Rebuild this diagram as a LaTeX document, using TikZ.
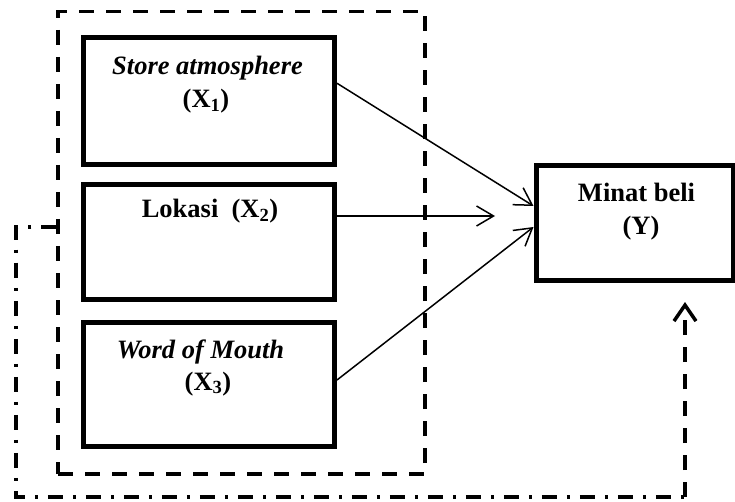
\documentclass[tikz,border=0pt]{standalone}
\usepackage{fontspec}
\setmainfont{Liberation Serif}
\usetikzlibrary{arrows.meta}
\begin{document}
\begin{tikzpicture}[x=1pt,y=-1pt,
  box/.style={draw,line width=5pt,inner sep=0pt},
  grpbox/.style={draw,line width=3.5pt,dash pattern=on 15pt off 12pt,inner sep=0pt},
  lbl/.style={inner sep=0pt,anchor=base,font=\bfseries\fontsize{26.5}{32}\selectfont},
  thinarrow/.style={line width=1.5pt,-{Straight Barb[length=17pt,width=20pt]}},
  dashdotline/.style={line width=3.5pt,dash pattern=on 15pt off 10pt on 3pt off 10pt},
  dashline/.style={line width=3.5pt,dash pattern=on 15pt off 12pt,-{Straight Barb[length=16pt,width=22pt]}}
]
\useasboundingbox (0,0) rectangle (735,502);
% boxes
\node[box,minimum width=251.5pt,minimum height=126.5pt] (b1) at (208.75,101.25) {};
\node[box,minimum width=251.5pt,minimum height=115pt] (b2) at (208.75,242) {};
\node[box,minimum width=251.5pt,minimum height=124pt] (b3) at (208.75,384.5) {};
\node[box,minimum width=197pt,minimum height=115pt] (y) at (634.5,223) {};
% group dashed box
\node[grpbox,minimum width=367pt,minimum height=462.5pt] (grp) at (241.5,242.75) {};
% labels
\node[lbl] (t1a) at (207.5,75) {\textit{Store atmosphere}};
\node[lbl] (t1b) at (206,108) {(X\textsubscript{1})};
\node[lbl] (t2) at (210,218) {Lokasi\ \ (X\textsubscript{2})};
\node[lbl] (t3a) at (200.5,358) {\textit{Word of Mouth}};
\node[lbl] (t3b) at (208,390) {(X\textsubscript{3})};
\node[lbl] (tya) at (636.5,202) {Minat beli};
\node[lbl] (tyb) at (641,235) {(Y)};
% arrows
\coordinate (a2end) at (495,216);
\draw[thinarrow] ([yshift=18pt]b1.east) -- ([yshift=17pt]y.west);
\draw[thinarrow] ([yshift=26pt]b2.east) -- (a2end);
\draw[thinarrow] ([yshift=4.5pt]b3.east) -- ([yshift=-4pt]y.west);
% feedback line
\coordinate (fbl) at (16,497);
\coordinate (fbr) at (685,497);
\draw[dashdotline] ([yshift=15.75pt]grp.west) -| (fbl) -- (fbr);
\draw[dashline] (fbr) -- ([xshift=50.5pt,yshift=-19pt]y.south);
\end{tikzpicture}
\end{document}
